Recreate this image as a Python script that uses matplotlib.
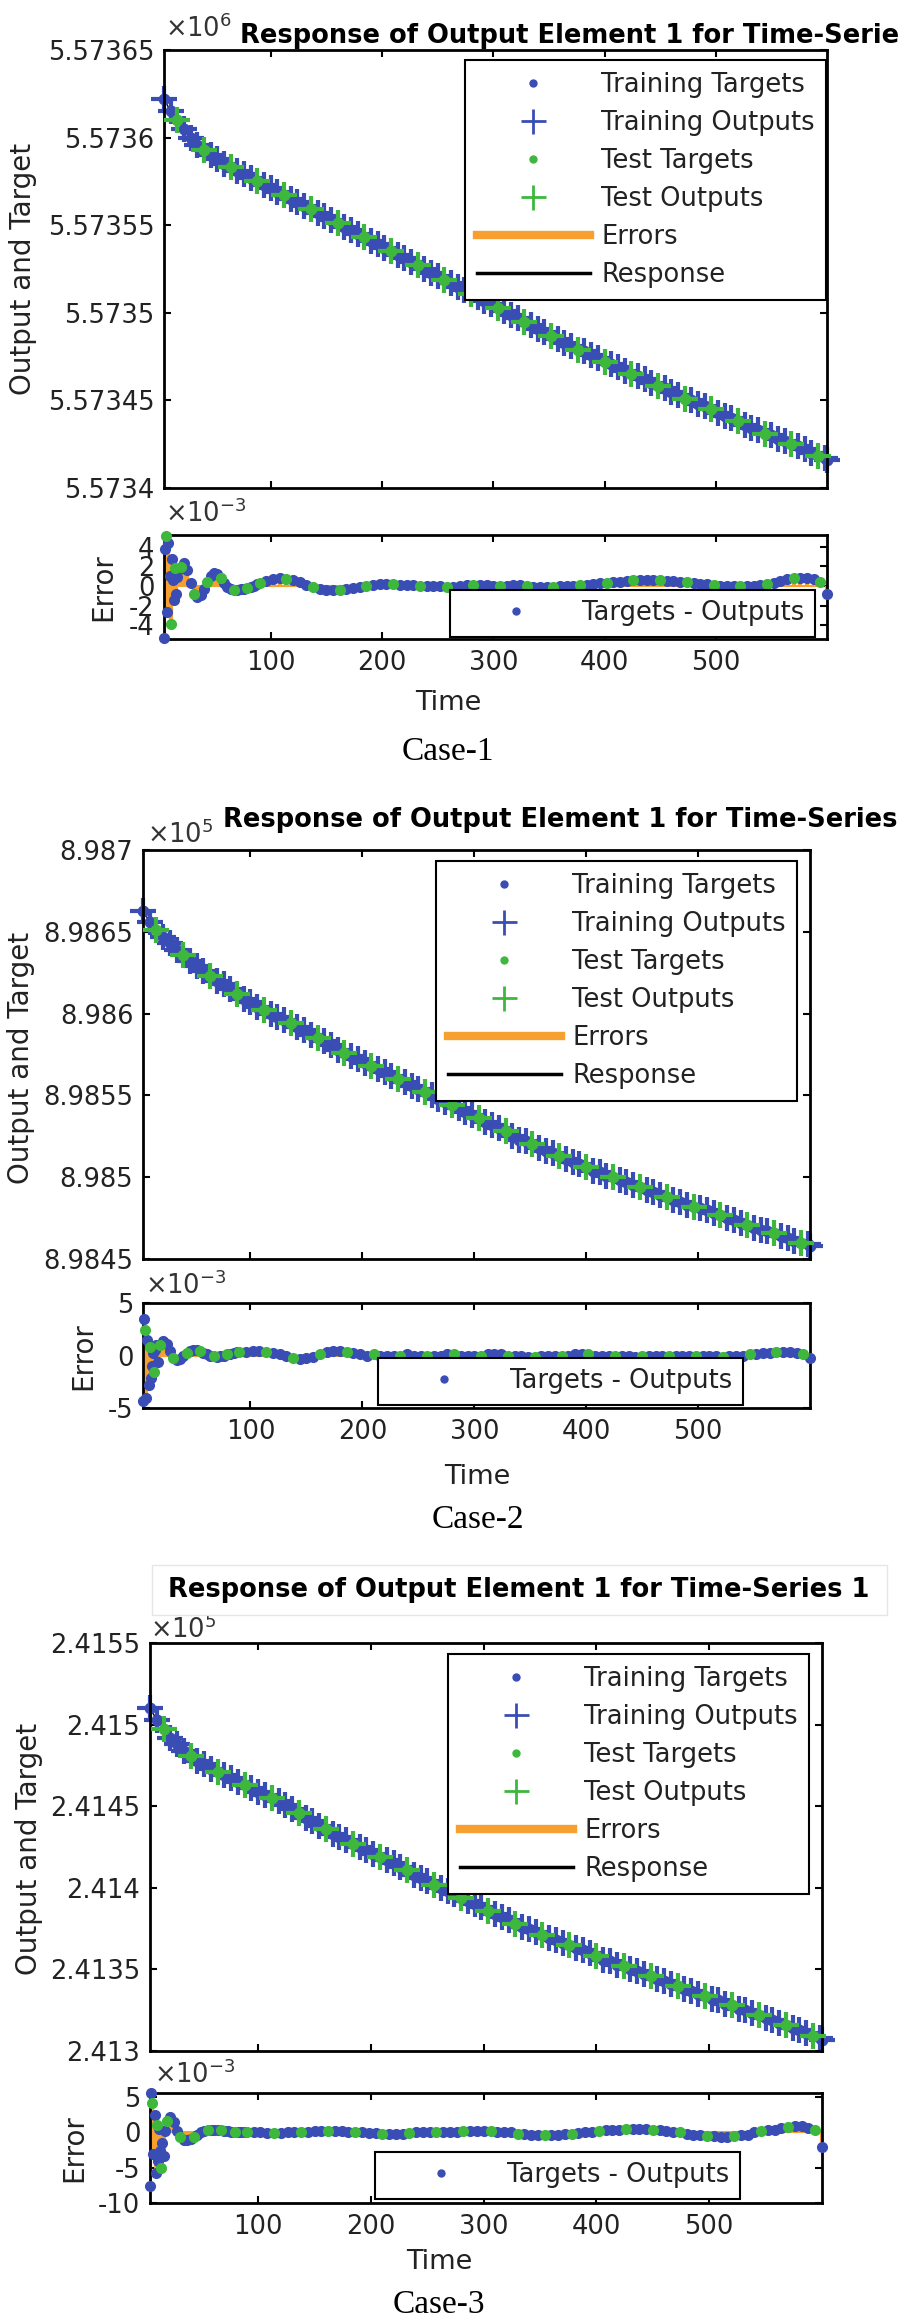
import numpy as np
import matplotlib
matplotlib.use('Agg')
import matplotlib.pyplot as plt
from matplotlib.lines import Line2D
from matplotlib.patches import Rectangle

plt.rcParams['font.family'] = ['DejaVu Sans']
plt.rcParams['axes.unicode_minus'] = False

W, H = 900, 2323
BLUE = '#3a4db5'
GREEN = '#3db83d'
ORANGE = '#f7a030'
TXT = '#222222'

# time steps of the response samples and of the error samples
t_resp = list(range(4, 600, 6)) + [600]
t_err = list(range(4, 18)) + list(range(19, 89, 3)) + list(range(90, 601, 6))

# case 1 (x 10^6)
resp1 = [5.573622, 5.573615, 5.573610, 5.573605, 5.573600, 5.573596, 5.573593, 5.573590, 5.573588, 5.573585,
         5.573583, 5.573581, 5.573579, 5.573577, 5.573575, 5.573573, 5.573571, 5.573569, 5.573567, 5.573565,
         5.573563, 5.573561, 5.573559, 5.573557, 5.573555, 5.573553, 5.573551, 5.573549, 5.573547, 5.573545,
         5.573543, 5.573541, 5.573539, 5.573537, 5.573535, 5.573533, 5.573531, 5.573529, 5.573527, 5.573525,
         5.573523, 5.573521, 5.573519, 5.573517, 5.573515, 5.573513, 5.573511, 5.573509, 5.573507, 5.573505,
         5.573503, 5.573501, 5.573499, 5.573497, 5.573495, 5.573493, 5.573491, 5.573489, 5.573487, 5.573485,
         5.573483, 5.573481, 5.573479, 5.573478, 5.573476, 5.573474, 5.573472, 5.573471, 5.573469, 5.573467,
         5.573465, 5.573464, 5.573462, 5.573460, 5.573458, 5.573457, 5.573455, 5.573453, 5.573451, 5.573450,
         5.573448, 5.573447, 5.573445, 5.573443, 5.573441, 5.573440, 5.573438, 5.573436, 5.573434, 5.573433,
         5.573431, 5.573430, 5.573428, 5.573427, 5.573425, 5.573424, 5.573422, 5.573420, 5.573418, 5.573417,
         5.573416]
err1 = [-5.3, 3.8, 5.1, -2.6, 4.4, 1.0, -3.9, 2.8, 0.6, -1.4, 1.8, -0.8, 0.9, 1.6,
        1.9, 2.3, 1.6, 0.3, -0.8, -1.1, -0.9, -0.3, 0.4, 1.0, 1.3, 1.2, 0.8, 0.3, -0.1, -0.3,
        -0.4, -0.4, -0.3, -0.3, -0.2, -0.1, 0.0, 0.2,
        0.3, 0.5, 0.7, 0.8, 0.7, 0.6, 0.4, 0.1, -0.1, -0.3,
        -0.4, -0.4, -0.4, -0.3, -0.2, -0.1, 0.0, 0.1, 0.2, 0.2,
        0.2, 0.1, 0.1, 0.1, 0.0, 0.0, 0.0, 0.0, -0.1, -0.1,
        0.0, 0.1, 0.1, 0.1, 0.1, 0.0, 0.0, 0.0, 0.1, 0.1,
        0.0, -0.1, -0.1, -0.1, -0.1, 0.0, 0.0, 0.0, 0.1, 0.1,
        0.2, 0.3, 0.3, 0.4, 0.4, 0.5, 0.6, 0.6, 0.6, 0.6,
        0.6, 0.5, 0.5, 0.4, 0.4, 0.3, 0.2, 0.2, 0.1, 0.0,
        0.0, 0.0, 0.0, 0.0, 0.0, 0.1, 0.2, 0.3, 0.5, 0.7,
        0.8, 0.8, 0.8, 0.7, 0.4, -0.8]
yt1 = [5.5734, 5.57345, 5.5735, 5.57355, 5.5736, 5.57365]
et1 = [-4, -2, 0, 2, 4]

# case 2 (x 10^5)
resp2 = [8.98663, 8.98656, 8.98651, 8.98647, 8.98643, 8.98639, 8.98636, 8.98632, 8.98629, 8.98626,
         8.98623, 8.98620, 8.98618, 8.98615, 8.98612, 8.98609, 8.98607, 8.98604, 8.98602, 8.98600,
         8.98598, 8.98596, 8.98594, 8.98592, 8.98590, 8.98587, 8.98585, 8.98583, 8.98581, 8.98578,
         8.98576, 8.98574, 8.98572, 8.98570, 8.98568, 8.98566, 8.98564, 8.98562, 8.98560, 8.98558,
         8.98556, 8.98554, 8.98552, 8.98550, 8.98548, 8.98546, 8.98544, 8.98542, 8.98540, 8.98538,
         8.98536, 8.98534, 8.98532, 8.98530, 8.98528, 8.98525, 8.98523, 8.98522, 8.98520, 8.98518,
         8.98516, 8.98515, 8.98513, 8.98511, 8.98509, 8.98508, 8.98506, 8.98504, 8.98503, 8.98501,
         8.98500, 8.98498, 8.98497, 8.98495, 8.98494, 8.98492, 8.98491, 8.98489, 8.98488, 8.98486,
         8.98485, 8.98483, 8.98482, 8.98481, 8.98480, 8.98478, 8.98477, 8.98475, 8.98474, 8.98472,
         8.98471, 8.98469, 8.98468, 8.98467, 8.98466, 8.98464, 8.98463, 8.98461, 8.98460, 8.98459,
         8.98458]
err2 = [-4.3, 3.5, 2.4, -4.0, 1.5, -2.8, 0.8, -2.1, -1.0, 0.2, -1.6, 0.5, 1.0, -0.6,
        1.0, 1.4, 1.1, 0.4, -0.2, -0.4, -0.3, 0.0, 0.2, 0.4, 0.5, 0.5, 0.4, 0.2, 0.1, 0.0,
        0.0, -0.1, 0.0, 0.0, 0.1, 0.1, 0.2, 0.3,
        0.3, 0.3, 0.4, 0.4, 0.3, 0.2, 0.1, 0.0, -0.2, -0.3,
        -0.2, -0.1, 0.1, 0.3, 0.4, 0.4, 0.3, 0.2, 0.1, 0.0,
        0.1, 0.0, 0.0, 0.0, 0.0, 0.1, 0.0, 0.0, 0.0, 0.0,
        0.0, 0.1, 0.1, 0.0, 0.0, 0.0, 0.0, 0.1, 0.1, 0.1,
        0.0, 0.0, 0.0, -0.1, -0.1, 0.0, 0.0, 0.0, 0.0, 0.0,
        0.1, 0.1, 0.1, 0.0, 0.0, 0.0, 0.0, 0.0, 0.0, -0.1,
        0.0, 0.0, 0.0, 0.0, 0.0, 0.0, 0.0, 0.0, 0.0, 0.0,
        0.0, 0.0, -0.1, 0.0, 0.0, 0.0, 0.1, 0.1, 0.2, 0.2,
        0.3, 0.3, 0.3, 0.2, 0.1, -0.2]
yt2 = [8.9845, 8.985, 8.9855, 8.986, 8.9865, 8.987]
et2 = [-5, 0, 5]

# case 3 (x 10^5)
resp3 = [2.41510, 2.41503, 2.41497, 2.41492, 2.41488, 2.41484, 2.41481, 2.41478, 2.41476, 2.41473,
         2.41471, 2.41469, 2.41467, 2.41465, 2.41463, 2.41461, 2.41459, 2.41457, 2.41455, 2.41453,
         2.41451, 2.41448, 2.41446, 2.41443, 2.41441, 2.41438, 2.41436, 2.41433, 2.41431, 2.41429,
         2.41427, 2.41425, 2.41423, 2.41421, 2.41419, 2.41417, 2.41415, 2.41413, 2.41411, 2.41408,
         2.41406, 2.41404, 2.41402, 2.41400, 2.41398, 2.41396, 2.41394, 2.41392, 2.41390, 2.41388,
         2.41386, 2.41384, 2.41382, 2.41380, 2.41378, 2.41376, 2.41375, 2.41373, 2.41371, 2.41369,
         2.41368, 2.41366, 2.41365, 2.41363, 2.41362, 2.41360, 2.41358, 2.41356, 2.41355, 2.41353,
         2.41352, 2.41350, 2.41349, 2.41347, 2.41346, 2.41344, 2.41343, 2.41341, 2.41340, 2.41338,
         2.41337, 2.41335, 2.41334, 2.41332, 2.41331, 2.41329, 2.41328, 2.41326, 2.41325, 2.41323,
         2.41322, 2.41320, 2.41319, 2.41317, 2.41316, 2.41314, 2.41313, 2.41311, 2.41309, 2.41308,
         2.41307]
err3 = [-7.6, 5.6, 4.2, -3.0, 2.5, -5.8, 1.0, -4.0, 0.5, -2.6, -5.1, -1.5, -3.4, 0.2,
        1.6, 2.2, 1.5, 0.2, -0.6, -1.0, -1.1, -0.9, -0.6, -0.3, 0.0, 0.2, 0.3, 0.4, 0.4, 0.3,
        0.3, 0.2, 0.2, 0.1, 0.1, 0.1, 0.0, 0.0,
        0.0, 0.0, 0.0, -0.1, -0.1, -0.1, 0.0, 0.0, 0.1, 0.1,
        0.2, 0.2, 0.2, 0.2, 0.2, 0.1, 0.1, 0.0, -0.1, -0.1,
        -0.2, -0.2, -0.2, -0.2, -0.1, 0.0, 0.0, 0.1, 0.1, 0.1,
        0.1, 0.1, 0.2, 0.2, 0.2, 0.2, 0.2, 0.1, 0.1, 0.0,
        -0.2, -0.2, -0.3, -0.3, -0.3, -0.3, -0.3, -0.2, -0.2, -0.1,
        0.0, 0.1, 0.2, 0.3, 0.3, 0.4, 0.5, 0.5, 0.5, 0.5,
        0.4, 0.3, 0.2, 0.1, 0.0, -0.2, -0.3, -0.4, -0.5, -0.5,
        -0.6, -0.6, -0.5, -0.4, -0.3, 0.0, 0.2, 0.3, 0.4, 0.6,
        0.8, 0.9, 0.9, 0.7, 0.3, -2.0]
yt3 = [2.413, 2.4135, 2.414, 2.4145, 2.415, 2.4155]
et3 = [-10, -5, 0, 5]

xt = [100, 200, 300, 400, 500]
title = 'Response of Output Element 1 for Time-Series 1'
legend_labels = ['Training Targets', 'Training Outputs', 'Test Targets',
                 'Test Outputs', 'Errors', 'Response']

fig = plt.figure(figsize=(W / 100, H / 100), dpi=100)


def fbox(x0, y0, x1, y1):
    return [x0 / W, 1 - y1 / H, (x1 - x0) / W, (y1 - y0) / H]


def fx(x):
    return x / W


def fy(y):
    return 1 - y / H


def style(a):
    a.tick_params(direction='in', length=5, width=1.5, top=True, right=True,
                  labelsize=18.5, labelcolor=TXT, color='k')
    a.tick_params(axis='y', pad=7)
    a.tick_params(axis='x', pad=8)
    for s in a.spines.values():
        s.set_linewidth(2)


def draw_case(p):
    t = np.array(t_resp)
    v = np.array(p['resp'])
    test = np.arange(len(t)) % 4 == 2
    train = ~test

    ax = fig.add_axes(fbox(*p['main']))
    ax.plot(t, v, color='k', lw=1, zorder=1)
    ax.plot(t[train], v[train], '.', color=BLUE, ms=15, clip_on=False, zorder=2)
    ax.plot(t[train], v[train], '+', color=BLUE, ms=19, mew=3, clip_on=False, zorder=2)
    ax.plot(t[test], v[test], '.', color=GREEN, ms=15, clip_on=False, zorder=3)
    ax.plot(t[test], v[test], '+', color=GREEN, ms=19, mew=3, clip_on=False, zorder=3)
    ax.set_xlim(4, 600)
    ax.set_ylim(p['yt'][0], p['yt'][-1])
    ax.set_xticks(xt)
    ax.set_xticklabels([])
    ax.set_yticks(p['yt'])
    ax.set_yticklabels([f'{y:g}' for y in p['yt']])
    style(ax)

    handles = [Line2D([], [], ls='none', marker='.', color=BLUE, ms=10),
               Line2D([], [], ls='none', marker='+', color=BLUE, ms=18, mew=2),
               Line2D([], [], ls='none', marker='.', color=GREEN, ms=10),
               Line2D([], [], ls='none', marker='+', color=GREEN, ms=18, mew=2),
               Line2D([], [], color=ORANGE, lw=6),
               Line2D([], [], color='k', lw=2.5)]
    leg = ax.legend(handles, legend_labels, loc='upper left',
                    bbox_to_anchor=(fx(p['leg'][0]), fy(p['leg'][1])),
                    bbox_transform=fig.transFigure, fontsize=18.5, fancybox=False,
                    edgecolor='k', framealpha=1, borderaxespad=0, borderpad=0.45,
                    handlelength=4.4, handletextpad=0.45, labelspacing=0.47)
    leg.get_frame().set_linewidth(1.5)
    leg.set_zorder(10)
    for txt in leg.get_texts():
        txt.set_color(TXT)

    te = np.array(t_err)
    e = np.array(p['err'])
    etest = np.arange(len(te)) % 4 == 2
    etrain = ~etest
    ex = fig.add_axes(fbox(*p['errbox']))
    ex.plot([4, 600], [0, 0], color=ORANGE, lw=1.5, zorder=1)
    ex.vlines(te, 0, e, color=ORANGE, lw=3, zorder=2)
    ex.plot(te[etrain], e[etrain], '.', color=BLUE, ms=14, clip_on=False, zorder=3)
    ex.plot(te[etest], e[etest], '.', color=GREEN, ms=14, clip_on=False, zorder=4)
    ex.set_xlim(4, 600)
    ex.set_ylim(*p['eylim'])
    ex.set_xticks(xt)
    ex.set_xticklabels([str(x) for x in xt])
    ex.set_yticks(p['et'])
    ex.set_yticklabels([str(y) for y in p['et']])
    style(ex)
    eleg = ex.legend([Line2D([], [], ls='none', marker='.', color=BLUE, ms=10)],
                     ['Targets - Outputs'], loc='upper left',
                     bbox_to_anchor=(fx(p['eleg'][0]), fy(p['eleg'][1])),
                     bbox_transform=fig.transFigure, fontsize=18.5, fancybox=False,
                     edgecolor='k', framealpha=1, borderaxespad=0, borderpad=0.4,
                     handlelength=4.3, handletextpad=0.45)
    eleg.get_frame().set_linewidth(1.5)
    eleg.set_zorder(10)
    eleg.get_texts()[0].set_color(TXT)

    fig.text(fx(p['title'][0]), fy(p['title'][1]), title, fontsize=18.5,
             fontweight='bold', color='k', va='baseline', ha='left', zorder=5)
    fig.text(fx(p['exp'][0]), fy(p['exp'][1]), r'$\times10^{%s}$' % p['pow'],
             fontsize=18.5, color='#333333', va='baseline', ha='left', zorder=3)
    fig.text(fx(p['eexp'][0]), fy(p['eexp'][1]), r'$\times10^{-3}$',
             fontsize=18.5, color='#333333', va='baseline', ha='left', zorder=3)
    fig.text(fx(p['ylab'][0]), fy(p['ylab'][1]), 'Output and Target', fontsize=20,
             rotation=90, ha='center', va='center', color=TXT)
    fig.text(fx(p['elab'][0]), fy(p['elab'][1]), 'Error', fontsize=20,
             rotation=90, ha='center', va='center', color=TXT)
    fig.text(fx(p['time'][0]), fy(p['time'][1]), 'Time', fontsize=19.5,
             ha='center', va='center', color=TXT)
    fig.text(fx(p['case'][0]), fy(p['case'][1]), p['name'], fontsize=24,
             family='Liberation Serif', ha='center', va='center', color='k')


cases = [
    dict(resp=resp1, err=err1, yt=yt1, et=et1, eylim=(-5.4, 5.2), pow='6',
         main=(164, 50, 827, 488), errbox=(164, 535, 827, 639),
         leg=(465, 60), eleg=(450, 590), title=(240, 43), exp=(165, 37),
         eexp=(165, 522), ylab=(23, 269), elab=(103, 587), time=(448, 703),
         case=(448, 752), name='Case-1'),
    dict(resp=resp2, err=err2, yt=yt2, et=et2, eylim=(-5, 5), pow='5',
         main=(143, 850, 810, 1259), errbox=(143, 1303, 810, 1408),
         leg=(436, 861), eleg=(378, 1358), title=(223, 827), exp=(147, 843),
         eexp=(145, 1294), ylab=(21, 1058), elab=(83, 1356), time=(477, 1477),
         case=(478, 1520), name='Case-2'),
    dict(resp=resp3, err=err3, yt=yt3, et=et3, eylim=(-10, 5.6), pow='5',
         main=(150, 1643, 822, 2051), errbox=(150, 2093, 822, 2203),
         leg=(448, 1654), eleg=(375, 2152), title=(168, 1597), exp=(150, 1638),
         eexp=(154, 2083), ylab=(29, 1849), elab=(74, 2148), time=(439, 2262),
         case=(439, 2305), name='Case-3'),
]

# faint frame around the third title
fig.patches.append(Rectangle((fx(152), fy(1615)), fx(887) - fx(152), fy(1565) - fy(1615),
                             transform=fig.transFigure, facecolor='white',
                             edgecolor='#e6e6e6', lw=1, zorder=4))

for c in cases:
    draw_case(c)

fig.savefig('out.png', dpi=100)
